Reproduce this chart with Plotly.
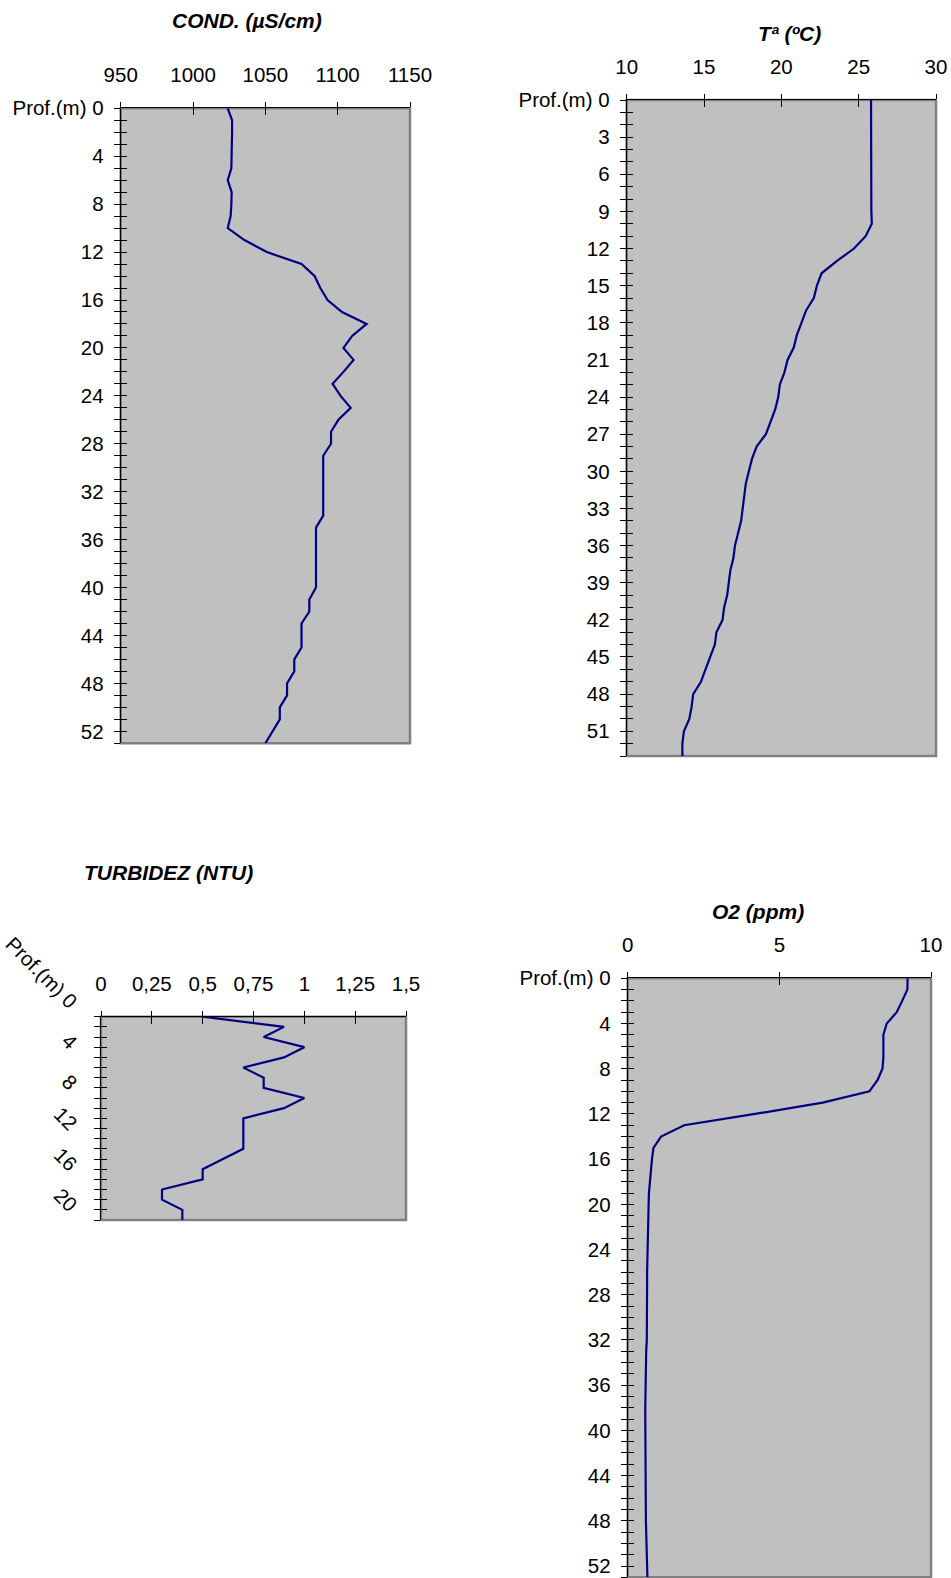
import plotly.graph_objects as go

# ---------------- data ----------------
depth_cond = list(range(0, 54))
cond = [1024, 1027, 1027, 1027, 1027, 1026.5, 1024, 1026.7, 1026.5, 1026,
        1024, 1035.5, 1051, 1075, 1084, 1088, 1093, 1103, 1120, 1110,
        1104, 1111, 1104, 1096.5, 1102, 1109, 1100.5, 1095.4, 1095.4, 1090,
        1090, 1090, 1090, 1090, 1090, 1085, 1085, 1085, 1085, 1085,
        1085, 1080.4, 1080.4, 1075, 1075, 1075, 1070, 1070, 1065, 1065,
        1060, 1060, 1055, 1050]

depth_temp = list(range(0, 54))
temp = [25.8, 25.8, 25.8, 25.8, 25.8, 25.8, 25.8, 25.8, 25.8, 25.82,
        25.85, 25.45, 24.7, 23.6, 22.6, 22.3, 22.1, 21.6, 21.3, 21.0,
        20.8, 20.4, 20.2, 19.9, 19.8, 19.6, 19.3, 19.0, 18.4, 18.1,
        17.9, 17.7, 17.6, 17.5, 17.4, 17.2, 17.0, 16.9, 16.7, 16.6,
        16.5, 16.3, 16.2, 15.8, 15.7, 15.4, 15.1, 14.8, 14.3, 14.2,
        14.05, 13.7, 13.6, 13.6]

depth_turb = list(range(0, 21))
turb = [0.5, 0.9, 0.8, 1.0, 0.9, 0.7, 0.8, 0.8, 1.0, 0.9,
        0.7, 0.7, 0.7, 0.7, 0.6, 0.5, 0.5, 0.3, 0.3, 0.4, 0.4]

depth_o2 = list(range(0, 54))
o2 = [9.23, 9.22, 9.05, 8.87, 8.54, 8.43, 8.43, 8.43, 8.4, 8.24,
      7.97, 6.43, 4.2, 1.86, 1.1, 0.85, 0.8, 0.76, 0.73, 0.7,
      0.69, 0.68, 0.67, 0.66, 0.64, 0.64, 0.64, 0.64, 0.64, 0.64,
      0.64, 0.64, 0.63, 0.61, 0.6, 0.59, 0.58, 0.58, 0.58, 0.58,
      0.58, 0.58, 0.6, 0.59, 0.58, 0.58, 0.58, 0.58, 0.6, 0.61,
      0.62, 0.63, 0.64, 0.65]

titles = ["COND. (µS/cm)", "Tª (ºC)", "TURBIDEZ (NTU)", "O2 (ppm)"]

cond_ticks = [950, 1000, 1050, 1100, 1150]
temp_ticks = [10, 15, 20, 25, 30]
turb_ticks = [0, 0.25, 0.5, 0.75, 1, 1.25, 1.5]
turb_ticktext = ["0", "0,25", "0,5", "0,75", "1", "1,25", "1,5"]
o2_ticks = [0, 5, 10]

depth_ticks_4 = list(range(0, 53, 4))
depth_ticks_3 = list(range(0, 52, 3))
turb_depth_ticks = list(range(0, 21, 4))

# ---------------- layout helpers ----------------
W, H = 951, 1578
FONT = "Liberation Sans, Arial, sans-serif"
TICKFONT = dict(family=FONT, size=20.5, color="black")
LINE = "#000080"


def px_x(p):
    return p / W


def px_y(p):
    return 1 - p / H


def sfx(i):
    return "" if i == 1 else str(i)


panels = [
    dict(x=cond, y=depth_cond, xdom=(120.7, 410), ydom=(108.3, 743.3),
         xrange=[950, 1150], xt=cond_ticks, xtt=[str(v) for v in cond_ticks],
         yrange=[53, 0], yt=depth_ticks_4, angle=0, shift=0, ystand=6,
         title=(246.7, 20.7)),
    dict(x=temp, y=depth_temp, xdom=(626.7, 936), ydom=(100, 756),
         xrange=[10, 30], xt=temp_ticks, xtt=[str(v) for v in temp_ticks],
         yrange=[53, 0], yt=depth_ticks_3, angle=0, shift=0, ystand=6,
         title=(789.3, 33.7)),
    dict(x=turb, y=depth_turb, xdom=(101, 406), ydom=(1016.7, 1220),
         xrange=[0, 1.5], xt=turb_ticks, xtt=turb_ticktext,
         yrange=[20, 0], yt=turb_depth_ticks, angle=45, shift=11, ystand=14,
         title=(168.8, 872)),
    dict(x=o2, y=depth_o2, xdom=(627.7, 931), ydom=(978.3, 1577.3),
         xrange=[0, 10], xt=o2_ticks, xtt=[str(v) for v in o2_ticks],
         yrange=[53, 0], yt=depth_ticks_4, angle=0, shift=0, ystand=6,
         title=(758, 911.7)),
]

fig = go.Figure()
layout = dict(
    width=W, height=H,
    margin=dict(l=0, r=0, t=0, b=0, autoexpand=False),
    paper_bgcolor="white", plot_bgcolor="#C0C0C0",
    showlegend=False, separators=",.",
    font=dict(family=FONT, size=20.5, color="black"),
)
shapes = []
annotations = []

for k, p in enumerate(panels):
    i = sfx(k + 1)
    j = sfx(k + 5)
    xdom = [px_x(p["xdom"][0]), px_x(p["xdom"][1])]
    ydom = [px_y(p["ydom"][1]), px_y(p["ydom"][0])]
    ytext = [("Prof.(m) " + str(v)) if v == 0 else str(v) for v in p["yt"]]

    fig.add_trace(go.Scatter(x=p["x"], y=p["y"], mode="lines",
                             line=dict(color=LINE, width=2.2),
                             xaxis=f"x{i}", yaxis=f"y{i}", hoverinfo="skip"))
    fig.add_trace(go.Scatter(x=[], y=[], mode="lines",
                             xaxis=f"x{j}", yaxis=f"y{j}", hoverinfo="skip"))

    layout[f"xaxis{i}"] = dict(
        domain=xdom, range=p["xrange"], side="top", anchor=f"y{i}",
        tickmode="array", tickvals=p["xt"], ticktext=p["xtt"],
        ticks="outside", ticklen=5, tickwidth=1, tickcolor="black",
        showline=True, linecolor="black", linewidth=1,
        showgrid=False, zeroline=False, tickfont=TICKFONT,
        ticklabelstandoff=12, fixedrange=True, automargin=False)
    layout[f"yaxis{i}"] = dict(
        domain=ydom, range=p["yrange"], side="left", anchor=f"x{i}",
        tickmode="array", tickvals=p["yt"], ticktext=ytext,
        ticks="outside", ticklen=6, tickwidth=1, tickcolor="black",
        minor=dict(tickmode="linear", tick0=0, dtick=1, ticks="outside",
                   ticklen=6, tickwidth=1, tickcolor="black", showgrid=False),
        showline=True, linecolor="black", linewidth=1,
        showgrid=False, zeroline=False, tickfont=TICKFONT,
        tickangle=p["angle"], ticklabelshift=p["shift"],
        ticklabelstandoff=p["ystand"], fixedrange=True, automargin=False)
    layout[f"xaxis{j}"] = dict(
        overlaying=f"x{i}", range=p["xrange"], side="top", anchor=f"y{j}",
        tickmode="array", tickvals=p["xt"], ticks="inside", ticklen=7,
        tickwidth=1, tickcolor="black", showticklabels=False,
        showline=False, showgrid=False, zeroline=False, fixedrange=True,
        automargin=False)
    layout[f"yaxis{j}"] = dict(
        overlaying=f"y{i}", range=p["yrange"], side="left", anchor=f"x{j}",
        tickmode="array", tickvals=p["yt"], ticks="inside", ticklen=6,
        tickwidth=1, tickcolor="black", showticklabels=False,
        minor=dict(tickmode="linear", tick0=0, dtick=1, ticks="inside",
                   ticklen=6, tickwidth=1, tickcolor="black", showgrid=False),
        showline=False, showgrid=False, zeroline=False, fixedrange=True,
        automargin=False)

    shapes.append(dict(type="rect", xref=f"x{i} domain", yref=f"y{i} domain",
                       x0=0, x1=1, y0=0, y1=1, layer="below",
                       line=dict(color="#808080", width=2.5)))
    annotations.append(dict(
        text=f"<b><i>{titles[k]}</i></b>", showarrow=False,
        xref="paper", yref="paper",
        x=px_x(p["title"][0]), y=px_y(p["title"][1]),
        xanchor="center", yanchor="middle",
        font=dict(family=FONT, size=21, color="black")))

layout["shapes"] = shapes
layout["annotations"] = annotations
fig.update_layout(**layout)
fig.write_html(
    "out.html",
    config={"displayModeBar": False},
    post_script="document.body.style.margin='0';document.body.style.overflow='hidden';",
)
